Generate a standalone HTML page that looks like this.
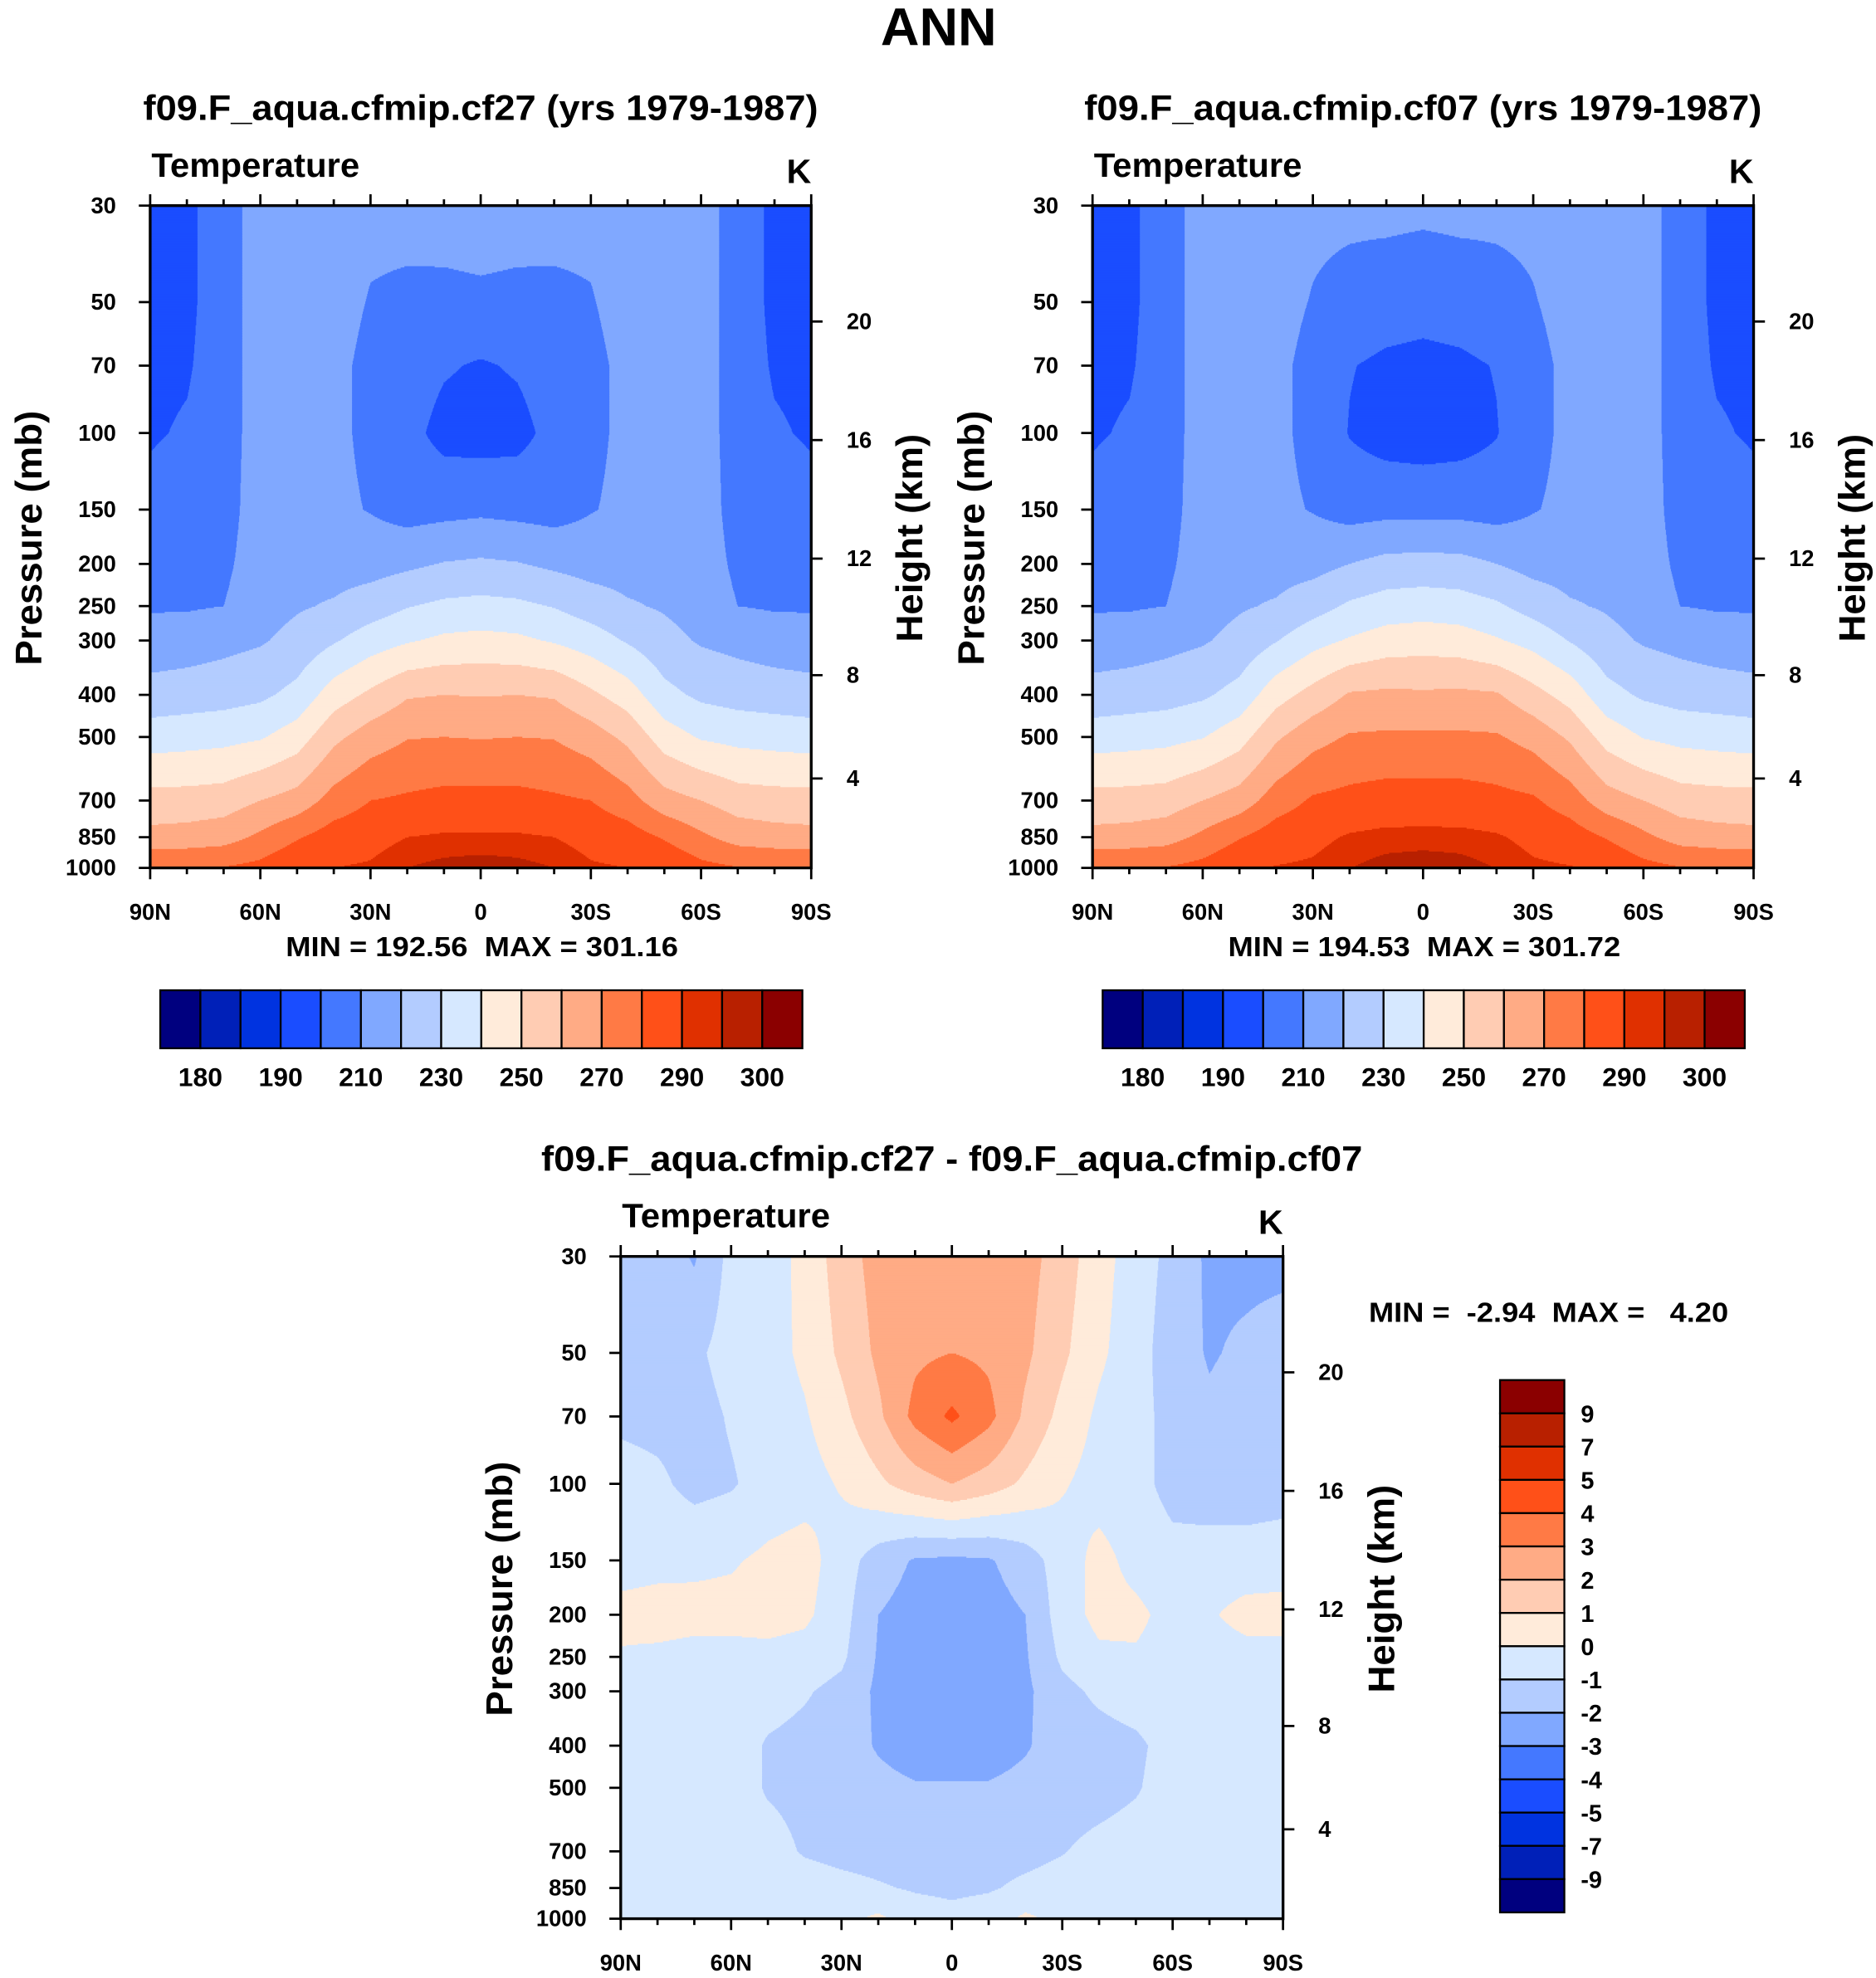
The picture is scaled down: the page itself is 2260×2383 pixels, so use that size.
<!DOCTYPE html>
<html><head><meta charset="utf-8"><style>
html,body{margin:0;padding:0;background:#fff}
svg{display:block}
text{font-family:"Liberation Sans",Arial,sans-serif;font-weight:bold;fill:#000;white-space:pre}
</style></head><body>
<svg id="root" width="2260" height="2383" viewBox="0 0 1487 1568" xmlns="http://www.w3.org/2000/svg">
<text x="744" y="36" font-size="42" text-anchor="middle" textLength="92" lengthAdjust="spacingAndGlyphs">ANN</text>
<g id="p1"></g>
<g id="p2"></g>
<g id="p3"></g>
</svg>
<script>
// ---- data ----
var pressures = [30,50,70,100,150,200,250,300,400,500,700,850,1000];
var halfLats = [0,10,20,30,40,50,60,70,80,90];
var fullLats = [90,80,70,60,50,40,30,20,10,0,-10,-20,-30,-40,-50,-60,-70,-80,-90];
var cf27Half = [
[214,213.5,212.5,212,214,215,215,205,198,197],
[208.5,208,208.5,209.5,213,216,215,205,198,197],
[199,201,205,208,212,216,215,205,199,198],
[196,197,203,208,212,216,215,205,201,199],
[208,207,206,209.5,212,216,215,206,205,203],
[221.5,220.5,218,216,216,217,215,208,206,206],
[233,232,229.5,225,221,219,216,210,209,209],
[243,242,239,235,229,223,219,217,215,214],
[259.5,260,259,252,245,233,228,226,225,224],
[269.5,270,269.5,265,257.5,245,239,237,236,235],
[283,283,281.5,280,274,264,260,255,254,254],
[291,291,290,287,285,279,272,266,264,263],
[298,297,295,291,290,289,283,280.5,280.5,280.5]];
var cf07Half = [
[212,212.5,212,212,214,215,215,205,198,197],
[204,205,207,209.5,213,216,215,205,198,197],
[197,198,200.5,207.5,212,216,215,205,199,198],
[195,196,199.5,207.5,212,216,215,205,201,199],
[207,207,206,209.5,212,216,215,206,205,203],
[223.5,223,220,216.5,216,217,215,208,206,206],
[235.5,234.5,231.5,226,221,219,216,210,209,209],
[245.5,244.5,241,236.5,229.5,223,219,217,215,214],
[261.5,262,261,253.5,246,233.5,228.5,226,225,224],
[271.5,271.5,271,266.5,258.5,246,239.5,237,236,235],
[284.5,284.5,283,281.3,275,264.5,260,255,254,254],
[292.2,292.1,290.9,287.7,285.4,279.3,272.3,266,264,263],
[298.7,297.5,294.8,291.3,290.4,289.4,283.3,280.5,280.5,280.5]];
var diffField = [
[-1.3,-1.5,-2.1,-0.7,-0.5,0.3,1.5,2.4,2.6,2.7,2.6,2.4,1.5,0.4,-0.5,-1.3,-2.2,-2.3,-2.3],
[-1.2,-1.1,-1.2,-0.6,-0.4,0.2,1.2,2.2,2.8,3.0,2.8,2.2,1.2,0.2,-0.6,-1.5,-2.1,-1.8,-1.5],
[-1.2,-1.3,-1.4,-0.9,-0.5,-0.1,0.7,1.8,3.3,4.2,3.3,1.8,0.7,-0.2,-0.7,-1.3,-1.8,-1.5,-1.4],
[-0.6,-0.8,-1.3,-1.1,-0.6,-0.4,0.1,0.8,1.5,2.0,1.5,0.8,0.1,-0.4,-0.6,-1.4,-1.6,-1.6,-1.5],
[-0.4,-0.3,-0.2,-0.1,0.2,0.4,-0.5,-1.5,-2.1,-2.2,-2.1,-1.5,-0.5,0.3,-0.3,-0.6,-0.5,-0.5,-0.4],
[0.3,0.4,0.3,0.3,0.4,0.2,-0.6,-2.0,-2.4,-2.5,-2.4,-2.0,-0.5,0.3,0.2,-0.3,-0.1,0.3,0.3],
[-0.1,-0.2,-0.3,-0.3,-0.3,-0.4,-0.8,-2.1,-2.5,-2.6,-2.5,-2.1,-0.8,-0.2,-0.1,-0.4,-0.4,-0.3,-0.3],
[-0.3,-0.4,-0.4,-0.4,-0.6,-0.9,-1.3,-2.2,-2.6,-2.7,-2.6,-2.2,-1.3,-0.8,-0.5,-0.4,-0.4,-0.4,-0.4],
[-0.4,-0.4,-0.4,-0.5,-1.1,-1.3,-1.5,-2.1,-2.5,-2.6,-2.5,-2.1,-1.5,-1.4,-1.2,-0.6,-0.4,-0.4,-0.4],
[-0.4,-0.4,-0.4,-0.5,-1.1,-1.3,-1.5,-1.7,-1.9,-1.9,-1.9,-1.7,-1.5,-1.4,-1.1,-0.5,-0.4,-0.4,-0.4],
[-0.2,-0.4,-0.4,-0.4,-0.6,-1.1,-1.3,-1.4,-1.5,-1.5,-1.4,-1.3,-1.05,-0.7,-0.5,-0.4,-0.4,-0.4,-0.4],
[-0.4,-0.4,-0.4,-0.4,-0.4,-0.5,-0.7,-0.9,-1.1,-1.2,-1.1,-0.8,-0.6,-0.5,-0.4,-0.4,-0.4,-0.4,-0.4],
[-0.4,-0.4,-0.4,-0.4,-0.4,-0.4,-0.3,0.2,-0.5,-0.7,-0.5,0.2,-0.3,-0.4,-0.4,-0.4,-0.4,-0.4,-0.4]];
var tempLevels = [180,185,190,200,210,220,230,240,250,260,270,280,290,295,300];
var tempLabelIdx = [0,2,4,6,8,10,12,14];
var diffLevels = [-9,-7,-5,-4,-3,-2,-1,0,1,2,3,4,5,7,9];
var palette = ["#00007f","#0020b8","#0033e0","#1a4dff","#4478ff","#80a8ff","#b3ccff","#d6e8ff","#ffebda","#ffccb3","#ffab85","#ff7a45","#ff5018","#e03000","#b82000","#8b0000"];
var pressureTicks = [30,50,70,100,150,200,250,300,400,500,700,850,1000];
var heightTicks = [4,8,12,16,20];
var heightFrac = [0.865,0.709,0.533,0.354,0.175];
var latTickLabels = ["90N","60N","30N","0","30S","60S","90S"];
var stats1 = "MIN = 192.56  MAX = 301.16";
var stats2 = "MIN = 194.53  MAX = 301.72";
var stats3 = "MIN =  -2.94  MAX =   4.20";

var NS = "http://www.w3.org/2000/svg";
function mk(tag, attrs, parent){var e=document.createElementNS(NS,tag);for(var k in attrs)e.setAttribute(k,attrs[k]);parent.appendChild(e);return e;}
function mirror(half){return half.map(function(r){var out=[];for(var i=9;i>=0;i--)out.push(r[i]);for(var j=1;j<10;j++)out.push(r[j]);return out;});}
var L0=Math.log(30),L1=Math.log(1000);
function yOfP(p,y0,h){return y0+(Math.log(p)-L0)/(L1-L0)*h;}
function levelIdx(v,levels){var i=0;while(i<levels.length&&v>=levels[i])i++;return i;}

function sample(field,lat,lp){
  var fi=(90-lat)/10; var i0=Math.min(17,Math.floor(fi)); var tx=fi-i0;
  var lps=pressures.map(Math.log); var j0=0;
  while(j0<lps.length-2&&lp>lps[j0+1])j0++;
  var ty=(lp-lps[j0])/(lps[j0+1]-lps[j0]); ty=Math.max(0,Math.min(1,ty));
  var a=field[j0][i0],b=field[j0][i0+1],c=field[j0+1][i0],d=field[j0+1][i0+1];
  return (a*(1-tx)+b*tx)*(1-ty)+(c*(1-tx)+d*tx)*ty;
}

function drawPanel(g,x0,y0,w,h,field,levels,title,titleLen){
  var cg=mk('g',{},g);
  
  
  var dx=0.5;
  for(var py=0;py<h;py++){
    var lp=L0+(py+0.5)/h*(L1-L0);
    var runStart=0,runC=-1;
    var n=Math.round(w/dx);
    for(var k=0;k<=n;k++){
      var c=-2;
      if(k<n){var lat=90-((k+0.5)*dx)/w*180;c=levelIdx(sample(field,lat,lp),levels);}
      if(c!==runC){
        if(runC>=0){
          var r=mk('rect',{x:x0+runStart*dx,y:y0+py,width:(k-runStart)*dx+0.3,height:1.3,fill:palette[runC]},cg);
          
          
        }
        runStart=k;runC=c;
      }
    }
  }
  var fr=mk('rect',{x:x0,y:y0,width:w,height:h,fill:'none',stroke:'#000','stroke-width':2.2},g);
  
  
  for(var d=0;d<=18;d++){
    var x=x0+d*w/18, major=(d%3===0), len=major?9:5;
    var t1=mk('line',{x1:x,x2:x,y1:y0,y2:y0-len,stroke:'#000','stroke-width':1.8},g);
    
    
    var t2=mk('line',{x1:x,x2:x,y1:y0+h,y2:y0+h+len,stroke:'#000','stroke-width':1.8},g);
    
    
  }
  latTickLabels.forEach(function(lb,i){
    var t=mk('text',{x:x0+i*w/6,y:y0+h+41,'font-size':18,'text-anchor':'middle'},g);t.textContent=lb;
    
    
  });
  pressureTicks.forEach(function(p){
    var y=yOfP(p,y0,h);
    var l=mk('line',{x1:x0,x2:x0-9,y1:y,y2:y,stroke:'#000','stroke-width':1.8},g);
    
    
    var t=mk('text',{x:x0-27,y:y+6,'font-size':18,'text-anchor':'end'},g);t.textContent=p;
    
    
  });
  heightTicks.forEach(function(z,i){
    var y=y0+heightFrac[i]*h;
    var l=mk('line',{x1:x0+w,x2:x0+w+9,y1:y,y2:y,stroke:'#000','stroke-width':1.8},g);
    
    
    var t=mk('text',{x:x0+w+28,y:y+6,'font-size':18},g);t.textContent=z;
    
    
  });
  var tt=mk('text',{x:x0+w/2,y:y0-68,'font-size':28,'text-anchor':'middle',textLength:titleLen,lengthAdjust:'spacingAndGlyphs'},g);tt.textContent=title;
  
  
  var tv=mk('text',{x:x0+1,y:y0-23,'font-size':27,textLength:165,lengthAdjust:'spacingAndGlyphs'},g);tv.textContent='Temperature';
  
  
  var tk=mk('text',{x:x0+w,y:y0-18,'font-size':27,'text-anchor':'end'},g);tk.textContent='K';
  
  
  var ya=mk('text',{x:0,y:0,'font-size':29,'text-anchor':'middle',textLength:202,lengthAdjust:'spacingAndGlyphs',transform:'translate('+(x0-86)+','+(y0+h/2+1)+') rotate(-90)'},g);ya.textContent='Pressure (mb)';
  
  
  var ha=mk('text',{x:0,y:0,'font-size':29,'text-anchor':'middle',textLength:165,lengthAdjust:'spacingAndGlyphs',transform:'translate('+(x0+w+88)+','+(y0+h/2+1)+') rotate(-90)'},g);ha.textContent='Height (km)';
  
  
}

function hColorbar(g,x0,y0,w,h,stats,cx){
  var s=mk('text',{x:cx,y:y0-27,'font-size':22,'text-anchor':'middle',textLength:311,lengthAdjust:'spacingAndGlyphs'},g);s.textContent=stats;
  
  
  var bw=w/16;
  for(var i=0;i<16;i++){
    var r=mk('rect',{x:x0+i*bw,y:y0,width:bw,height:h,fill:palette[i],stroke:'#000','stroke-width':1.5},g);
    
    
  }
  tempLabelIdx.forEach(function(i){
    var t=mk('text',{x:x0+(i+1)*bw,y:y0+h+30,'font-size':21,'text-anchor':'middle'},g);t.textContent=tempLevels[i];
    
    
  });
}

var g1=document.getElementById('p1'),g2=document.getElementById('p2'),g3=document.getElementById('p3');
drawPanel(g1,119,163,524,525,mirror(cf27Half),tempLevels,'f09.F_aqua.cfmip.cf27 (yrs 1979-1987)',535);
hColorbar(g1,127,785,509,46,stats1,382);
drawPanel(g2,866,163,524,525,mirror(cf07Half),tempLevels,'f09.F_aqua.cfmip.cf07 (yrs 1979-1987)',537);
hColorbar(g2,874,785,509,46,stats2,1129);
drawPanel(g3,492,996,525,525,diffField,diffLevels,'f09.F_aqua.cfmip.cf27 - f09.F_aqua.cfmip.cf07',651);
var ms=mk('text',{x:1085,y:1048,'font-size':22,textLength:285,lengthAdjust:'spacingAndGlyphs'},g3);ms.textContent=stats3;


(function(){
  var x0=1189,y0=1094,w=51,h=422,bh=h/16;
  for(var i=0;i<16;i++){
    var r=mk('rect',{x:x0,y:y0+i*bh,width:w,height:bh,fill:palette[15-i],stroke:'#000','stroke-width':1.5},g3);
    
    
  }
  for(var j=0;j<15;j++){
    var t=mk('text',{x:x0+w+13,y:y0+(j+1)*bh+7,'font-size':19},g3);t.textContent=diffLevels[14-j];
    
    
  }
})();
</script>
</body></html>
